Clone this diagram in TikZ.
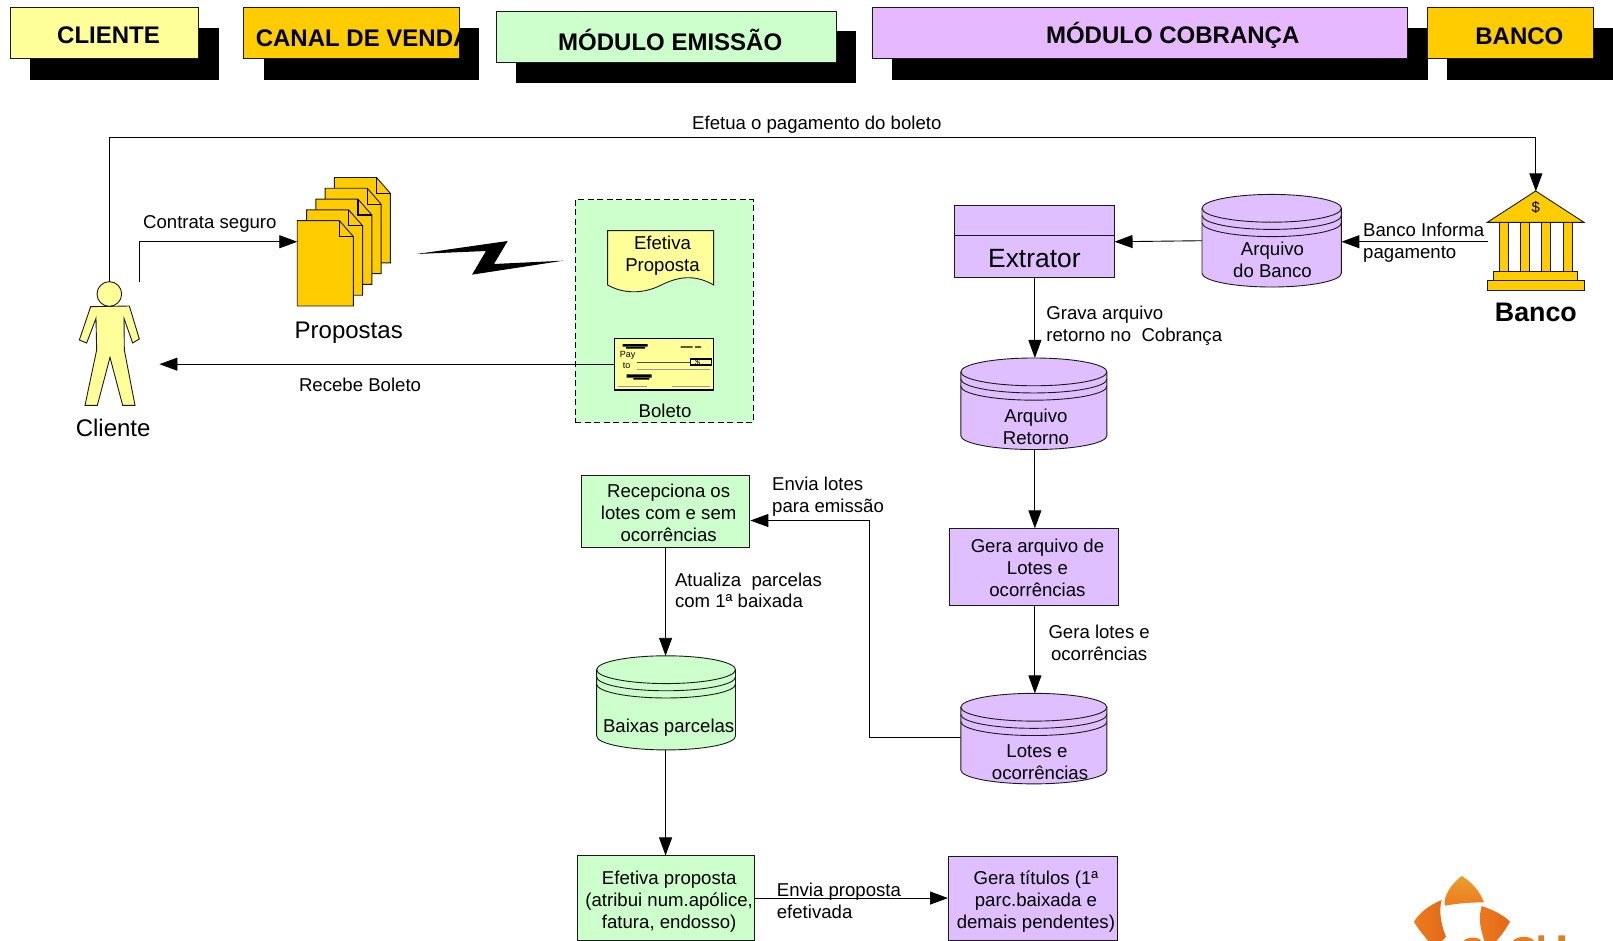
\documentclass[tikz,border=0pt]{standalone}
\usepackage{fontspec}
\setmainfont{Liberation Sans}
\usetikzlibrary{arrows.meta,fit,calc}
\definecolor{cYel}{HTML}{FFFF99}
\definecolor{cOra}{HTML}{FFCC00}
\definecolor{cGrn}{HTML}{CCFFCC}
\definecolor{cLil}{HTML}{E6B8FF}
\definecolor{cLilb}{HTML}{DFBFFF}
\definecolor{cEdge}{HTML}{1A1A1A}
\definecolor{logoA}{HTML}{E8A030}
\definecolor{logoB}{HTML}{EE7A1E}
\definecolor{logoC}{HTML}{E06A18}
\definecolor{logoD}{HTML}{D8802A}
\tikzset{
  lbl/.style={inner sep=0pt,align=center,text=black,font=\fontsize{18.6}{21.6}\selectfont},
  lbll/.style={lbl,align=left,anchor=west},
  big/.style={inner sep=0pt,text=black,font=\fontsize{24}{28}\selectfont},
  hdr/.style={inner sep=0pt,text=black,font=\bfseries\fontsize{24}{28}\selectfont},
  shp/.style={draw=cEdge,line width=0.9pt},
  conn/.style={draw=black,line width=0.9pt},
  arr/.style={conn,-{Triangle[length=18pt,width=13pt]}},
  ghost/.style={inner sep=0pt,outer sep=0pt,draw=none,fill=none},
  shadowbar/.style={fill=black,draw=none},
  pgpaper/.style={shp,fill=cOra},
  tiny/.style={inner sep=0pt,text=black,font=\fontsize{9}{10}\selectfont},
}
% cylinder: name, x1, x2, ytop, ybottom, fill
\newcommand{\dbcyl}[6]{%
  \path[shp,fill=#6] (#2,#4+13.5) arc[start angle=180,end angle=360,x radius=(#3-#2)/2,y radius=13.5]
     -- (#3,#5-13.5) arc[start angle=0,end angle=180,x radius=(#3-#2)/2,y radius=13.5] -- cycle;
  \draw[shp] (#2,#4+13.5) arc[start angle=180,end angle=0,x radius=(#3-#2)/2,y radius=13.5];
  \draw[shp] (#2,#4+20.5) arc[start angle=180,end angle=0,x radius=(#3-#2)/2,y radius=13.5];
  \draw[shp] (#2,#4+27.5) arc[start angle=180,end angle=0,x radius=(#3-#2)/2,y radius=13.5];
  \node[ghost,fit={(#2,#4)(#3,#5)}] (#1) {};
}
% one proposal page: x,y of top left
\newcommand{\ppage}[2]{%
  \draw[pgpaper] (#1,#2) -- (#1+41,#2) -- (#1+54.5,#2+15.5) -- (#1+54.5,#2+83) -- (#1,#2+83) -- cycle;
  \draw[shp,line width=1.2pt,draw=black] (#1+41,#2) -- (#1+41,#2+15.5) -- (#1+54.5,#2+15.5);
}
\begin{document}
\begin{tikzpicture}[x=1.02870pt,y=-1.02870pt]
\useasboundingbox (0,0) rectangle (1568,914.74);
\fill[white] (0,0) rectangle (1568,914.74);

% ---------- header bars
\fill[shadowbar] (29,27) rectangle (213,78);
\node[shp,fill=cYel,fit={(10,7)(193,57)},inner sep=0pt] (hCli) {};
\node[hdr] (hCliT) at (105.5,34) {CLIENTE};
\fill[shadowbar] (257,27) rectangle (466,78);
\node[shp,fill=cOra,fit={(237,7)(447,57)},inner sep=0pt] (hCan) {};
\node[hdr,anchor=west] (hCanT) at (248.5,37) {CANAL DE VENDA};
\fill[shadowbar] (502,30) rectangle (832,81);
\node[shp,fill=cGrn,fit={(483,11)(813,61)},inner sep=0pt] (hEmi) {};
\node[hdr] (hEmiT) at (651.5,39) {MÓDULO EMISSÃO};
\fill[shadowbar] (867,27) rectangle (1388,78);
\node[shp,fill=cLil,fit={(848,7)(1368,57)},inner sep=0pt] (hCob) {};
\node[hdr] (hCobT) at (1140,34) {MÓDULO COBRANÇA};
\fill[shadowbar] (1407,27) rectangle (1568,78);
\node[shp,fill=cOra,fit={(1388,7)(1549,57)},inner sep=0pt] (hBan) {};
\node[hdr] (hBanT) at (1477,35) {BANCO};

% ---------- Cliente figure (zoom coordinates)
\begin{scope}[shift={(60pt,-160pt)},x=0.33333pt,y=-0.33333pt]
  \draw[shp,fill=cYel] (92,440) -- (208,438) -- (238,537) -- (218,549) -- (192,475) -- (193,570)
    -- (225,736) -- (188,736) -- (150,592) -- (112,736) -- (75,736) -- (110,570) -- (108,475)
    -- (80,549) -- (58,540) -- cycle;
  \draw[shp,fill=cYel] (148,402) circle[radius=37];
\end{scope}
\node[ghost,fit={(77,274)(136,395)}] (cliFig) {};
\node[big] (cliT) at (110,416) {Cliente};
\coordinate (cliHead) at (106.5,274);
\coordinate (cliHand) at (135.5,274);
\coordinate (cliIn) at (155,354);

% ---------- Propostas
\ppage{325}{172.5}
\ppage{316}{183}
\ppage{307}{193.5}
\ppage{298}{204}
\ppage{289}{214.5}
\node[ghost,fit={(289,214.5)(343.5,297.5)}] (prop) {};
\node[big] (propT) at (339,323.5) {Propostas};

% ---------- lightning
\begin{scope}[shift={(400pt,-190pt)},x=0.33333pt,y=-0.33333pt]
  \fill[black] (50,192) -- (323,153) -- (282,222) -- (490,212) -- (216,254) -- (258,183) -- cycle;
\end{scope}

% ---------- dashed panel
\node[draw=black,line width=0.9pt,dashed,dash pattern=on 6pt off 3.5pt,fill=cGrn,fit={(559,194)(732,411)},inner sep=0pt] (panel) {};
\begin{scope}[shift={(400pt,-190pt)},x=0.33333pt,y=-0.33333pt]
  \draw[shp,fill=cYel] (623,122) -- (941,122) -- (941,285) .. controls (880,250) and (830,262) .. (782,286)
     .. controls (730,312) and (670,312) .. (623,285) -- cycle;
\end{scope}
\node[lbl] (efet) at (644,248.5) {Efetiva\\Proposta};
\begin{scope}[shift={(600pt,-330pt)},x=0.33333pt,y=-0.33333pt]
  \node[draw=black,line width=1.3pt,fill=cYel,fit={(43,25)(340,180)},inner sep=0pt] (chq) {};
  \fill[black] (68,42) rectangle (143,50) (78,51) rectangle (135,56);
  \fill[black] (242,49) rectangle (278,53) (285,49) rectangle (303,53);
  \node[tiny] (chqPay) at (83,76) {Pay};
  \node[tiny] (chqTo) at (80,106) {to};
  \draw[black!70,line width=0.7pt] (112,97) -- (272,97);
  \draw[black,line width=1.1pt] (272,87) rectangle (334,105);
  \node[tiny] (chqD) at (293,96) {\$};
  \draw[black!40,line width=0.5pt] (112,118) -- (330,118);
  \fill[black] (80,133) rectangle (155,143) (100,144) rectangle (148,149);
  \draw[black!40,line width=0.5pt] (55,168) -- (140,168) (217,168) -- (330,168);
\end{scope}
\node[lbl] (bolT) at (646.5,399.5) {Boleto};

% ---------- Banco
\begin{scope}[shift={(1180pt,-170pt)},x=0.33333pt,y=-0.33333pt]
  \foreach \c in {957,1021,1085,1150} \draw[shp,fill=cOra] (\c,157) rectangle (\c+27,305);
  \draw[shp,fill=cOra] (940,305) rectangle (1192,332);
  \draw[shp,fill=cOra] (922,332) rectangle (1212,361);
  \draw[shp,fill=cOra] (922,157) -- (1067,63) -- (1212,157) -- cycle;
  \node[inner sep=0pt,text=black,font=\fontsize{15}{17}\selectfont] (banD) at (1067,113) {\$};
\end{scope}
\node[ghost,fit={(1446,186)(1540,281)}] (bank) {};
\node[inner sep=0pt,text=black,font=\bfseries\fontsize{26.8}{30}\selectfont] (bankT) at (1493,303.5) {Banco};
\coordinate (bankTop) at (1493,186);
\coordinate (bankL) at (1446,235);

% ---------- cylinders
\dbcyl{cArq}{1168.5}{1304}{189}{279}{cLilb}
\dbcyl{cRet}{934}{1076}{348}{437}{cLilb}
\dbcyl{cLot}{934}{1076}{674}{762}{cLilb}
\dbcyl{cBai}{580}{715}{637.5}{729}{cGrn}
\node[lbl] (cArqT) at (1237,252.5) {Arquivo\\do Banco};
\node[lbl] (cRetT) at (1007,415) {Arquivo\\Retorno};
\node[lbl] (cLotT) at (1008,730) {Lotes e};
\node[lbl] (cLotU) at (1011,751.5) {ocorrências};
\node[lbl] (cBaiT) at (650,707) {Baixas parcelas};

% ---------- Extrator
\node[shp,fill=cLilb,fit={(928,200)(1083,270)},inner sep=0pt] (ext) {};
\draw[shp] (928,229) -- (1083,229);
\node[inner sep=0pt,text=black,font=\fontsize{26.4}{30}\selectfont] (extT) at (1005.5,251) {Extrator};

% ---------- process boxes
\node[shp,fill=cLilb,fit={(923,514)(1087,589)},inner sep=0pt] (gera) {};
\node[lbl] (geraT) at (1008.5,552) {Gera arquivo de\\Lotes e\\ocorrências};
\node[shp,fill=cGrn,fit={(565,462)(729,532)},inner sep=0pt] (rec) {};
\node[lbl] (recT) at (650,498.5) {Recepciona os\\lotes com e sem\\ocorrências};
\node[shp,fill=cGrn,fit={(561,832)(733,914)},inner sep=0pt] (efp) {};
\node[lbl] (efpT) at (650.5,876.5) {Efetiva proposta\\(atribui num.apólice,\\fatura, endosso)};
\node[shp,fill=cLilb,fit={(922,833)(1086,914)},inner sep=0pt] (tit) {};
\node[lbl] (titT) at (1007,876.5) {Gera títulos (1ª\\parc.baixada e\\demais pendentes)};

% ---------- connectors
\draw[arr] (cliHead) |- (794,134) -| (bankTop);
\draw[arr] (cliHand) |- (prop.west |- 0,235);
\draw[arr] (chq.west) -- (cliIn |- chq.west);
\draw[arr] (bankL) -- (cArq.east |- bankL);
\draw[arr] (cArq.west |- 0,234) -- (ext.east |- 0,235);
\draw[arr] (ext.south -| 1006,0) -- (1006,0 |- cRet.north);
\draw[arr] (1006,0 |- cRet.south) -- (1006,0 |- gera.north);
\draw[arr] (1006,0 |- gera.south) -- (1006,0 |- cLot.north);
\draw[arr] (cLot.west |- 0,717) -- (845,717) -- (845,506) -- (rec.east |- 0,506);
\draw[arr] (647,0 |- rec.south) -- (647,0 |- cBai.north);
\draw[arr] (647,0 |- cBai.south) -- (647,0 |- efp.north);
\draw[arr] (efp.east) -- (tit.west |- efp.east);

% ---------- connector labels
\node[lbl] (l1) at (794,121.5) {Efetua o pagamento do boleto};
\node[lbl] (l2) at (204,217.5) {Contrata seguro};
\node[lbl] (l3) at (350,374) {Recebe Boleto};
\node[lbll] (l4) at (1325,236) {Banco Informa\\pagamento};
\node[lbll] (l5) at (1017,316.5) {Grava arquivo\\retorno no\ \ Cobrança};
\node[lbl] (l6) at (1068.5,625) {Gera lotes e\\ocorrências};
\node[lbll] (l7) at (750.5,483) {Envia lotes\\para emissão};
\node[lbll] (l8) at (656,574) {Atualiza\ \ parcelas\\com 1ª baixada};
\node[lbll] (l9) at (755,875.5) {Envia proposta\\efetivada};

% ---------- logo fragment (cropped by the page edge)
\begin{scope}[shift={(1400pt,-870pt)},x=0.33333pt,y=-0.33333pt]
  \shade[top color=logoA,bottom color=logoB,draw=none] (185,18) .. controls (215,35) and (240,65) .. (252,97)
     .. controls (215,97) and (170,100) .. (135,107) .. controls (128,80) and (155,40) .. (185,18) -- cycle;
  \shade[left color=logoB,right color=logoC,draw=none] (125,90) .. controls (115,125) and (125,170) .. (138,200)
     .. controls (125,215) and (110,225) .. (105,240) .. controls (80,205) and (55,180) .. (42,155) .. controls (60,125) and (90,105) .. (125,90) -- cycle;
  \shade[left color=logoB,right color=logoC,draw=none] (245,108) .. controls (280,120) and (310,135) .. (330,155)
     .. controls (310,190) and (290,215) .. (262,240) .. controls (250,200) and (230,160) .. (245,108) -- cycle;
  \fill[logoB] (190,214) .. controls (200,200) and (235,198) .. (245,214) -- cycle;
  \fill[logoB] (338,214) .. controls (350,196) and (395,196) .. (402,214) -- cycle;
  \fill[logoD] (415,196) rectangle (432,214) (475,196) rectangle (495,214);
\end{scope}
\end{tikzpicture}
\end{document}
